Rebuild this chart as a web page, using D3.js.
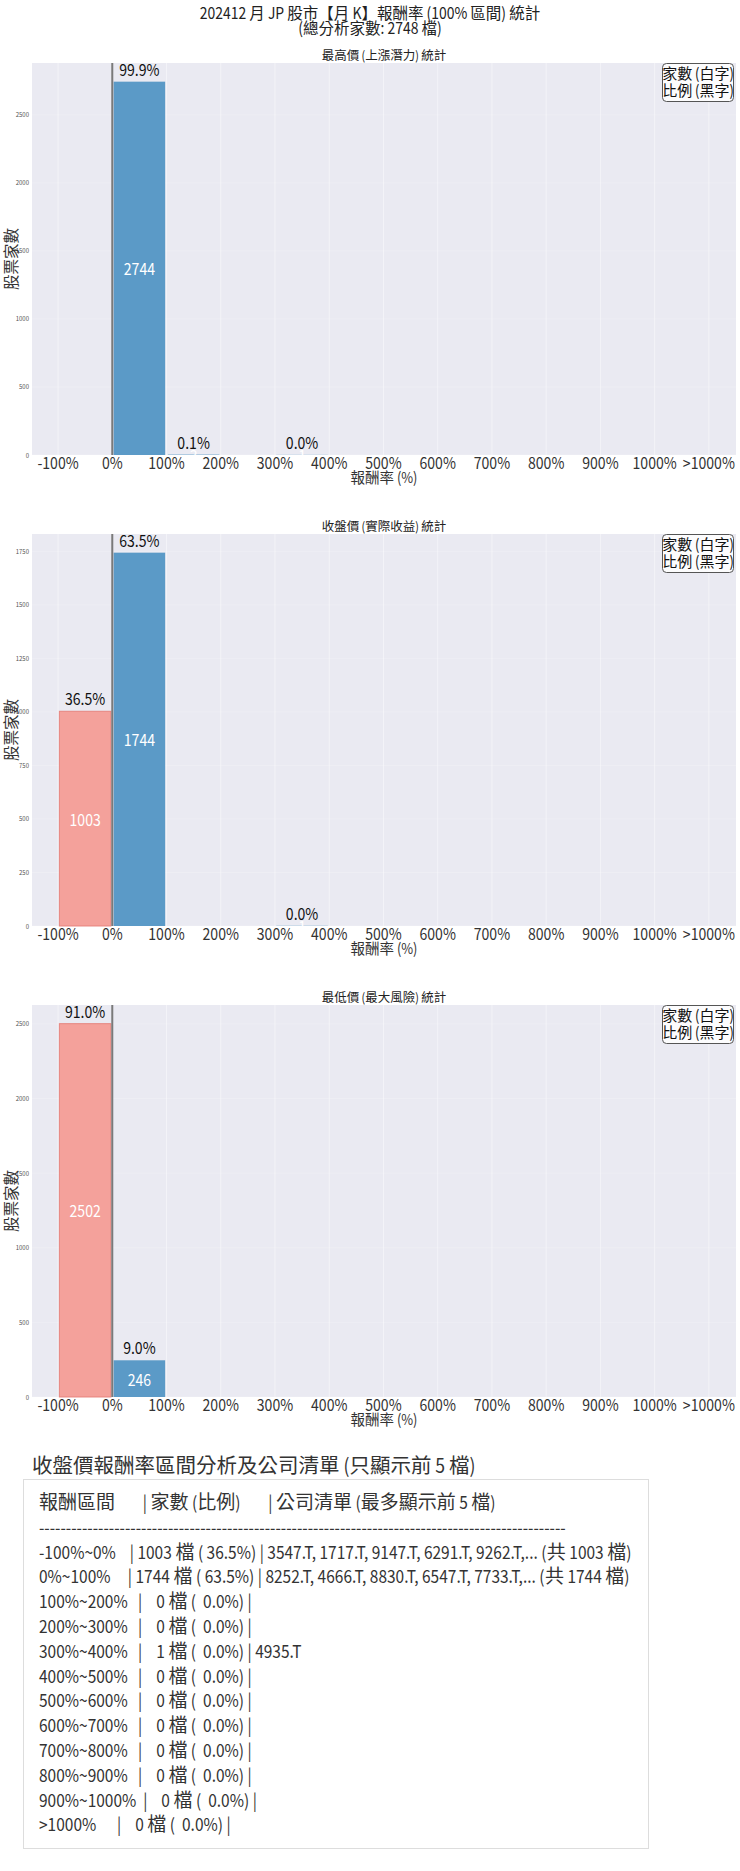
<!DOCTYPE html>
<html>
<head>
<meta charset="utf-8">
<script src="https://cdn.jsdelivr.net/npm/d3@7"></script>
<style>
  body { margin: 0; background: #fff; }
  svg text { font-family: "Noto Sans CJK TC", "Noto Sans CJK JP", sans-serif; white-space: pre; }
</style>
</head>
<body>
<svg id="chart" width="740" height="1871"></svg>
<script>
// bin edges (%) and tick labels
const edges = [-100, 0, 100, 200, 300, 400, 500, 600, 700, 800, 900, 1000, 1100];
const tickLabels = ['-100%', '0%', '100%', '200%', '300%', '400%', '500%', '600%', '700%', '800%', '900%', '1000%', '>1000%'];
const total = 2748;

// counts per bin: -100~0, 0~100, ..., 900~1000, >1000
const highCounts  = [0, 2744, 3, 0, 1, 0, 0, 0, 0, 0, 0, 0];
const closeCounts = [1003, 1744, 0, 0, 1, 0, 0, 0, 0, 0, 0, 0];
const lowCounts   = [2502, 246, 0, 0, 0, 0, 0, 0, 0, 0, 0, 0];

const panelTitles = ['最高價 (上漲潛力) 統計', '收盤價 (實際收益) 統計', '最低價 (最大風險) 統計'];
const yTicks = [
  [0, 500, 1000, 1500, 2000, 2500],
  [0, 250, 500, 750, 1000, 1250, 1500, 1750],
  [0, 500, 1000, 1500, 2000, 2500]
];

const tableTitle = '收盤價報酬率區間分析及公司清單 (只顯示前 5 檔)';
const tableLines = [
  '報酬區間        | 家數 (比例)        | 公司清單 (最多顯示前 5 檔)',
  '-'.repeat(98),
  '-100%~0%    | 1003 檔 ( 36.5%) | 3547.T, 1717.T, 9147.T, 6291.T, 9262.T,... (共 1003 檔)',
  '0%~100%     | 1744 檔 ( 63.5%) | 8252.T, 4666.T, 8830.T, 6547.T, 7733.T,... (共 1744 檔)',
  '100%~200%   |    0 檔 (  0.0%) |',
  '200%~300%   |    0 檔 (  0.0%) |',
  '300%~400%   |    1 檔 (  0.0%) | 4935.T',
  '400%~500%   |    0 檔 (  0.0%) |',
  '500%~600%   |    0 檔 (  0.0%) |',
  '600%~700%   |    0 檔 (  0.0%) |',
  '700%~800%   |    0 檔 (  0.0%) |',
  '800%~900%   |    0 檔 (  0.0%) |',
  '900%~1000%  |    0 檔 (  0.0%) |',
  '>1000%      |    0 檔 (  0.0%) |'
];

// the source font has narrow latin glyphs next to CJK ones:
// lay runs out one after another and squeeze the latin runs
function label(parent, str, x, y, o) {
  const g = parent.append('g').attr('fill', o.fill || '#222');
  let cur = 0;
  str.split(/([\u2E80-\uFFEF]+)/).filter(s => s.length).forEach(s => {
    const cjk = /[\u2E80-\uFFEF]/.test(s);
    const t = g.append('text').attr('x', 0).attr('y', 0)
      .attr('font-size', cjk ? o.size : (o.latin || o.size)).text(s);
    if (o.central) t.attr('dominant-baseline', 'central');
    const sq = (!cjk && o.sq) ? o.sq : 1;
    const len = t.node().getComputedTextLength() * sq;
    t.attr('transform', `translate(${cur},0) scale(${sq},1)`);
    cur += len;
  });
  const dx = o.anchor === 'middle' ? -cur / 2 : (o.anchor === 'end' ? -cur : 0);
  g.attr('transform', `translate(${x + dx},${y})`);
  return g;
}

const svg = d3.select('#chart');
const left = 32, right = 736, plotH = 392;
const tops = [63, 534, 1005];
const blue = '#5b9ac7', red = '#f4a19b';

label(svg, '202412 月 JP 股市【月 K】報酬率 (100% 區間) 統計', 370, 19,
  { size: 15.5, latin: 16, sq: 0.87, anchor: 'middle' });
label(svg, '(總分析家數: 2748 檔)', 370, 33.5,
  { size: 15.5, latin: 16, sq: 0.87, anchor: 'middle' });

const x = d3.scaleLinear().domain([-148, 1150]).range([left, right]);

[highCounts, closeCounts, lowCounts].forEach((counts, k) => {
  const top = tops[k];
  const g = svg.append('g');
  const ymax = d3.max(counts) * 1.05;
  const y = d3.scaleLinear().domain([0, ymax]).range([top + plotH, top]);

  g.append('rect').attr('x', left).attr('y', top).attr('width', right - left).attr('height', plotH)
    .attr('fill', '#eaeaf2');

  // grid
  g.selectAll('.vg').data(edges).enter().append('line')
    .attr('x1', d => x(d)).attr('x2', d => x(d)).attr('y1', top).attr('y2', top + plotH)
    .attr('stroke', '#fff').attr('stroke-opacity', 0.45);
  g.selectAll('.hg').data(yTicks[k]).enter().append('line')
    .attr('x1', left).attr('x2', right).attr('y1', d => y(d)).attr('y2', d => y(d))
    .attr('stroke', '#fff').attr('stroke-opacity', 0.2);

  const bins = counts.map((c, i) => ({ lo: edges[i], hi: edges[i + 1], c: c }));

  g.selectAll('.bar').data(bins).enter().append('rect')
    .attr('x', d => x(d.lo + 2.5))
    .attr('width', d => x(d.hi - 2.5) - x(d.lo + 2.5))
    .attr('y', d => y(d.c))
    .attr('height', d => y(0) - y(d.c))
    .attr('fill', d => d.lo < 0 ? red : blue)
    .attr('stroke', d => d.lo < 0 ? '#e58079' : '#a9c9e2')
    .attr('stroke-width', d => d.c > 0 ? 1 : 1.2)
    .attr('stroke-opacity', d => d.lo < 0 ? 0.9 : (d.c > 0 ? 0 : 0.9));

  // zero line
  g.append('line').attr('x1', x(0)).attr('x2', x(0)).attr('y1', top).attr('y2', top + plotH)
    .attr('stroke', '#7a7a7a').attr('stroke-width', 2);

  bins.filter(d => d.c > 0).forEach(d => {
    const cx = x((d.lo + d.hi) / 2);
    label(g, String(d.c), cx, y(d.c / 2), { size: 16, sq: 0.88, anchor: 'middle', central: true, fill: '#fff' });
    label(g, (d.c / total * 100).toFixed(1) + '%', cx, y(d.c) - 6, { size: 16, sq: 0.88, anchor: 'middle', fill: '#111' });
  });

  // axes labels
  edges.forEach((e, i) => {
    label(g, tickLabels[i], x(e), top + plotH + 14, { size: 16, sq: 0.88, anchor: 'middle', fill: '#333' });
  });
  g.selectAll('.yt').data(yTicks[k]).enter().append('text')
    .attr('x', left - 3).attr('y', d => y(d)).attr('dominant-baseline', 'central')
    .attr('text-anchor', 'end').attr('font-size', 6).attr('fill', '#555')
    .text(d => d);

  label(g, '報酬率 (%)', (left + right) / 2, top + plotH + 28,
    { size: 14.5, latin: 15, sq: 0.86, anchor: 'middle', fill: '#333' });
  g.append('text').attr('transform', `translate(17,${top + plotH / 2}) rotate(-90)`)
    .attr('text-anchor', 'middle').attr('font-size', 15.5).attr('fill', '#333').text('股票家數');
  label(g, panelTitles[k], (left + right) / 2, top - 3,
    { size: 12.5, sq: 0.86, anchor: 'middle', fill: '#222' });

  // legend note
  g.append('rect').attr('x', 662.5).attr('y', top + 0.5).attr('width', 71).attr('height', 38)
    .attr('rx', 4).attr('fill', '#fff').attr('fill-opacity', 0.85)
    .attr('stroke', '#555').attr('stroke-width', 1);
  label(g, '家數 (白字)', 698, top + 16, { size: 15, sq: 0.86, anchor: 'middle', fill: '#111' });
  label(g, '比例 (黑字)', 698, top + 33, { size: 15, sq: 0.86, anchor: 'middle', fill: '#111' });
});

// table
label(svg, tableTitle, 32, 1473, { size: 20.5, latin: 20, sq: 0.88, fill: '#333' });
svg.append('rect').attr('x', 23.5).attr('y', 1479.5).attr('width', 625).attr('height', 369)
  .attr('fill', '#fff').attr('stroke', '#ddd');
tableLines.forEach((line, i) => {
  label(svg, line, 39, 1509 + i * 24.8, { size: 19, latin: 17.5, sq: 0.886, fill: '#333' });
});
</script>
</body>
</html>
